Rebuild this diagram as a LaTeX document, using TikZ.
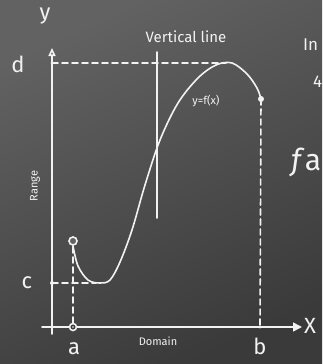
\documentclass[tikz,border=0pt]{standalone}
\usepackage{fontspec}
\setmainfont{Fira Sans}
\usetikzlibrary{arrows.meta}
\definecolor{boardA}{HTML}{626262}
\definecolor{boardB}{HTML}{3A3A3A}
\definecolor{chalk}{HTML}{F2F2F2}
\tikzset{
  chalkline/.style={draw=chalk, line width=1.6pt, line cap=round},
  chalkdash/.style={chalkline, dash pattern=on 6pt off 4pt},
  lbl/.style={text=chalk, inner sep=0pt, font=\fontsize{22}{24}\selectfont},
  smalllbl/.style={text=chalk, inner sep=0pt, font=\fontsize{11}{13}\selectfont},
}
\begin{document}
\begin{tikzpicture}[x=1pt,y=-1pt]
\useasboundingbox (0,0) rectangle (322,364);
\shade[top color=boardA, bottom color=boardB, shading angle=25] (0,0) rectangle (322,364);
% axes
\coordinate (yb) at (52,334);
\coordinate (yt) at (52,48);
\coordinate (xl) at (42,327);
\coordinate (xr) at (302,327);
\draw[chalkline, -{Triangle[open, length=8pt, width=7pt]}] (yb) -- (yt);
\draw[chalkline, -{Triangle[length=9pt, width=9pt]}] (xl) -- (xr);
% axis labels
\node[lbl] (ylab) at (45,16) {y};
\node[lbl] (xlab) at (310,326) {X};
\node[lbl] (dlab) at (18,64) {d};
\node[lbl] (clab) at (27,283) {c};
\node[lbl] (alab) at (74,349) {a};
\node[lbl] (blab) at (260,346) {b};
\node[smalllbl] (domain) at (158,341) {Domain};
\node[smalllbl, rotate=90] (range) at (35,186) {Range};
% points
\coordinate (d) at (52,63);
\coordinate (c) at (52,283);
\coordinate (ax) at (73,327);
\coordinate (bx) at (260,327);
\fill[chalk] (c) circle (2pt);
\fill[chalk] (d) circle (1.5pt);
\draw[chalkline, fill=boardB] (ax) circle (3.5pt);
\fill[chalk] (bx) circle (1.5pt);
% vertical line
\coordinate (vt) at (157,52);
\coordinate (vb) at (157,218);
\draw[chalkline] (vt) -- (vb);
\node[text=chalk, inner sep=0pt, font=\fontsize{15}{17}\selectfont] (vlab) at (186,37) {Vertical line};
% curve
\coordinate (start) at (73,241);
\coordinate (peak) at (226,63);
\coordinate (bend) at (261,99);
\draw[chalkline] plot[smooth, tension=0.55] coordinates {(73,246) (78,266) (88,280) (100,283) (110,280) (120,262) (132,230) (145,185) (160,140) (178,103) (198,78) (216,65) (232,63) (247,74) (257,88) (261,99)};
\draw[chalkline, fill=boardA] (start) circle (4pt);
\fill[chalk] (bend) circle (3pt);
\node[smalllbl] (flab) at (206,101) {y=f(x)};
% dashed guides
\draw[chalkdash] (d) -- (peak);
\draw[chalkdash] (c) -- (96,283);
\draw[chalkdash] (73,247) -- (ax);
\draw[chalkdash] (bend) -- (bx);
% clipped texts at right edge
\begin{scope}
\clip (0,0) rectangle (322,364);
\node[lbl, anchor=west, font=\fontsize{17}{19}\selectfont] (inlab) at (303,45) {In};
\node[lbl, anchor=west, font=\fontsize{30}{32}\selectfont] (falab) at (291,162) {\textit{f}a};
\node[lbl, anchor=west, font=\fontsize{17}{19}\selectfont] (fourlab) at (313,82) {4};
\end{scope}
\end{tikzpicture}
\end{document}
